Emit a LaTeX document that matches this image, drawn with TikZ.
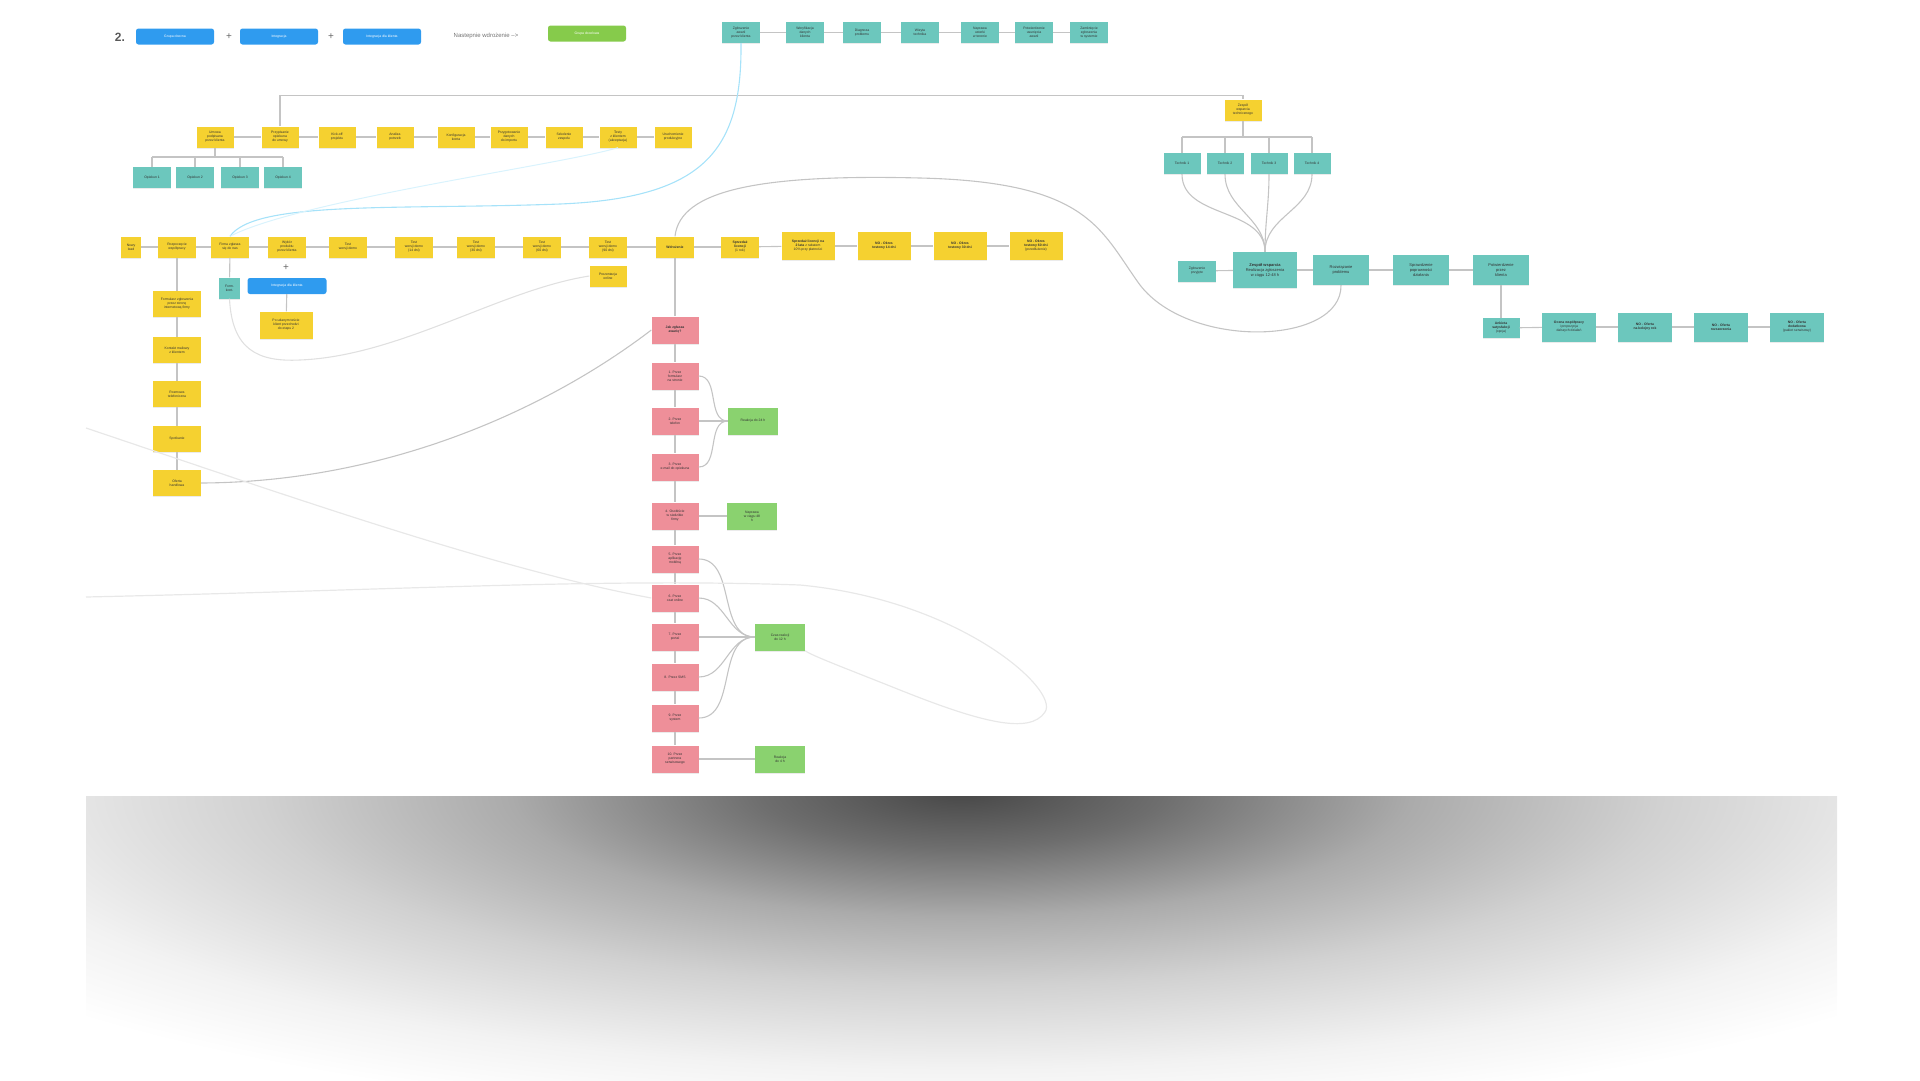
\documentclass[tikz,border=0pt]{standalone}
\usepackage{fontspec}
\setmainfont{Liberation Sans}
\usetikzlibrary{positioning, shadows}
\definecolor{postit}{HTML}{F5D130}
\definecolor{tealnote}{HTML}{6CC7BD}
\definecolor{pinknote}{HTML}{EE8F99}
\definecolor{greennote}{HTML}{8AD26F}
\definecolor{btnblue}{HTML}{2F9BEF}
\definecolor{btngreen}{HTML}{86CB4B}
\definecolor{linegray}{HTML}{C4C4C4}
\newcommand\notefont{\fontsize{3.4}{4}\selectfont}
\pgfdeclareradialshading{boardshadow}{\pgfpoint{0bp}{0bp}}{color(0bp)=(black!72);
  color(4bp)=(black!57); color(9bp)=(black!33); color(14bp)=(black!18);
  color(20bp)=(black!5); color(24bp)=(white); color(50bp)=(white)}
\tikzset{
  sticky/.style={
    rectangle,
    minimum width=37, minimum height=21,
    inner sep=0.8pt,
    align=center,
    font=\notefont,
    text=black!80,
    drop shadow={shadow xshift=0pt, shadow yshift=-1.4pt, opacity=.16}
  },
  button/.style={
    rectangle, rounded corners=2.5pt,
    minimum width=78, minimum height=16,
    inner sep=1pt, text=white,
    font=\fontsize{3.4}{4}\selectfont
  }
}

\begin{document}
\begin{tikzpicture}[
    x=1pt, y=1pt,
    yel/.style={sticky, fill=postit},
    teal/.style={sticky, fill=tealnote},
    pink/.style={sticky, fill=pinknote, minimum width=47, minimum height=27},
    green/.style={sticky, fill=greennote, minimum width=50, minimum height=27},
    conn/.style={draw=linegray, line width=1.1pt},
    faint/.style={draw=black!9, line width=1.2pt},
    cyanline/.style={draw=cyan!35, line width=1.1pt}
]
\useasboundingbox (0,0) rectangle (1920,-1080);

% shadow below the board
\begin{scope}
  \clip (86,-796) rectangle (1837,-1080);
  \shade[shading=boardshadow] (961,-792) ellipse [x radius=1250, y radius=345];
\end{scope}

% header
\node[font=\bfseries\fontsize{12}{12}\selectfont, text=black!65] (num) at (120,-37) {2.};
\node[button, fill=btnblue] (btnA) at (175,-36.5) {Grupa obecna};
\node[text=black!60] (plusA) at (229,-37) {+};
\node[button, fill=btnblue] (btnB) at (279,-36.5) {Integracja};
\node[text=black!60] (plusB) at (331,-37) {+};
\node[button, fill=btnblue] (btnC) at (382,-36.5) {Integracja dla klienta};
\node[font=\fontsize{6}{6}\selectfont, text=black!55] (nast) at (486,-36) {Nastepnie wdrożenie -->};
\node[button, fill=btngreen] (btnD) at (587,-33.5) {Grupa docelowa};

% top teal row
\node[teal, minimum width=38] (t1) at (741,-32.5) {Zgłoszenie\\awarii\\przez klienta};
\node[teal, minimum width=38] (t2) at (805,-32.5) {Weryfikacja\\danych\\klienta};
\node[teal, minimum width=38] (t3) at (862,-32.5) {Diagnoza\\problemu};
\node[teal, minimum width=38] (t4) at (920,-32.5) {Wizyta\\technika};
\node[teal, minimum width=38] (t5) at (980,-32.5) {Naprawa\\usterki\\w terenie};
\node[teal, minimum width=38] (t6) at (1034,-32.5) {Potwierdzenie\\usunięcia\\awarii};
\node[teal, minimum width=38] (t7) at (1089,-32.5) {Zamknięcie\\zgłoszenia\\w systemie};
\foreach \a/\b in {t1/t2,t2/t3,t3/t4,t4/t5,t5/t6,t6/t7}
  \draw[conn] (\a) -- (\b);

% yellow row
\node[yel] (y1) at (215,-137) {Umowa\\podpisana\\przez klienta};
\node[yel] (y2) at (280,-137) {Przypisanie\\opiekuna\\do umowy};
\node[yel] (y3) at (337,-137) {Kick-off\\projektu};
\node[yel] (y4) at (395,-137) {Analiza\\potrzeb};
\node[yel] (y5) at (456,-137) {Konfiguracja\\konta};
\node[yel] (y6) at (509,-137) {Przygotowanie\\danych\\do importu};
\node[yel] (y7) at (564,-137) {Szkolenie\\zespołu};
\node[yel] (y8) at (618,-137) {Testy\\z klientem\\(akceptacja)};
\node[yel] (y9) at (673,-137) {Uruchomienie\\produkcyjne};
\foreach \a/\b in {y1/y2,y2/y3,y3/y4,y4/y5,y5/y6,y6/y7,y7/y8,y8/y9}
  \draw[conn] (\a) -- (\b);

\node[teal, minimum width=38] (a1) at (152,-177.5) {Opiekun 1};
\node[teal, minimum width=38] (a2) at (195,-177.5) {Opiekun 2};
\node[teal, minimum width=38] (a3) at (240,-177.5) {Opiekun 3};
\node[teal, minimum width=38] (a4) at (283,-177.5) {Opiekun 4};
\coordinate (bar) at (0,-157);
\draw[conn] (y1.south) -- (y1.south |- bar);
\draw[conn] (a1.north |- bar) -- (a4.north |- bar);
\foreach \n in {a1,a2,a3,a4}
  \draw[conn] (\n.north |- bar) -- (\n.north);

% right branch
\node[yel] (ry) at (1243,-110) {Zespół\\wsparcia\\technicznego};
\coordinate (top) at (0,-95.5);
\draw[conn] (y2.north) -- (y2.north |- top) -- (ry.north |- top) -- (ry.north);

% main row
\node[yel, minimum width=20] (r1) at (131,-247) {Nowy\\lead};
\node[yel, minimum width=38] (r2) at (177,-247) {Rozpoczęcie\\współpracy};
\node[yel, minimum width=38] (r3) at (230,-247) {Firma zgłasza\\się do nas};
\node[yel, minimum width=38] (r4) at (287,-247) {Wybór\\produktu\\przez klienta};
\node[yel, minimum width=38] (r5) at (348,-247) {Test\\wersji demo};
\node[yel, minimum width=38] (r6) at (414,-247) {Test\\wersji demo\\(14 dni)};
\node[yel, minimum width=38] (r7) at (476,-247) {Test\\wersji demo\\(30 dni)};
\node[yel, minimum width=38] (r8) at (542,-247) {Test\\wersji demo\\(60 dni)};
\node[yel, minimum width=38] (r9) at (608,-247) {Test\\wersji demo\\(90 dni)};
\node[yel, minimum width=38] (r10) at (675,-247) {\textbf{Wdrożenie}};
\node[yel, minimum width=38] (r11) at (740,-247) {\textbf{Sprzedaż}\\\textbf{licencji}\\(1 rok)};
\node[yel, minimum width=53, minimum height=28] (r12) at (808,-246) {\textbf{Sprzedaż licencji na}\\\textbf{2 lata} z rabatem\\10\% przy płatności};
\node[yel, minimum width=53, minimum height=28] (r13) at (884,-246) {\textbf{NO - Okres}\\\textbf{testowy 14 dni}};
\node[yel, minimum width=53, minimum height=28] (r14) at (960,-246) {\textbf{NO - Okres}\\\textbf{testowy 30 dni}};
\node[yel, minimum width=53, minimum height=28] (r15) at (1036,-246) {\textbf{NO - Okres}\\\textbf{testowy 60 dni}\\(przedłużenie)};
\foreach \a/\b in {r1/r2,r2/r3,r3/r4,r4/r5,r5/r6,r6/r7,r7/r8,r8/r9,r9/r10,r10/r11,r11/r12,r12/r13,r13/r14,r14/r15}
  \draw[conn] (\a) -- (\b);

% left column
\node[yel, minimum width=48, minimum height=26] (l1) at (177,-304) {Formularz zgłoszenia\\przez stronę\\internetową firmy};
\node[yel, minimum width=48, minimum height=26] (l2) at (177,-350) {Kontakt mailowy\\z klientem};
\node[yel, minimum width=48, minimum height=26] (l3) at (177,-394) {Rozmowa\\telefoniczna};
\node[yel, minimum width=48, minimum height=26] (l4) at (177,-439) {Spotkanie};
\node[yel, minimum width=48, minimum height=26] (l5) at (177,-483) {Oferta\\handlowa};
\foreach \a/\b in {r2/l1,l1/l2,l2/l3,l3/l4,l4/l5}
  \draw[conn] (\a) -- (\b);

% below the main row
\node[teal, minimum width=21] (s1) at (229.5,-288) {Form.\\kont.};
\draw[conn] (r3) -- (s1);
\node[text=black!60] (plusC) at (286,-268) {+};
\node[button, fill=btnblue, minimum width=79] (blue2) at (287,-286) {Integracja dla klienta};
\node[yel, minimum width=53, minimum height=27] (yb) at (286,-325) {Po udanym teście\\klient przechodzi\\do etapu 2};
\draw[conn] (blue2) -- (yb);
\node[yel] (y10) at (608,-276) {Prezentacja\\online};

% pink column
\node[pink] (p1) at (675,-330) {\textbf{Jak zgłasza}\\\textbf{awarię?}};
\node[pink] (p2) at (675,-376) {1. Przez\\formularz\\na stronie};
\node[pink] (p3) at (675,-421) {2. Przez\\telefon};
\node[pink] (p4) at (675,-467) {3. Przez\\e-mail do opiekuna};
\node[pink] (p5) at (675,-516) {4. Osobiście\\w siedzibie\\firmy};
\node[pink] (p6) at (675,-559) {5. Przez\\aplikację\\mobilną};
\node[pink] (p7) at (675,-598) {6. Przez\\czat online};
\node[pink] (p8) at (675,-637) {7. Przez\\portal};
\node[pink] (p9) at (675,-677) {8. Przez SMS};
\node[pink] (p10) at (675,-718) {9. Przez\\system};
\node[pink] (p11) at (675,-759) {10. Przez\\partnera\\serwisowego};
\draw[conn] (r10) -- (p1);
\foreach \a/\b in {p1/p2,p2/p3,p3/p4,p4/p5,p5/p6,p6/p7,p7/p8,p8/p9,p9/p10,p10/p11}
  \draw[conn] (\a) -- (\b);

\node[green] (g1) at (753,-421) {Reakcja do 24 h};
\node[green] (g2) at (752,-516) {Naprawa\\w ciągu 48\\h};
\node[green] (g3) at (780,-637) {Czas reakcji\\do 12 h};
\node[green] (g4) at (780,-759) {Reakcja\\do 4 h};
\foreach \n in {p2,p3,p4}
  \draw[conn] (\n.east) to[out=0, in=180] (g1.west);
\draw[conn] (p5) -- (g2);
\foreach \n in {p6,p7,p8,p9,p10}
  \draw[conn] (\n.east) to[out=0, in=180] (g3.west);
\draw[conn] (p11) -- (g4);

% right part
\node[teal] (q1) at (1182,-163.5) {Technik 1};
\node[teal] (q2) at (1225,-163.5) {Technik 2};
\node[teal] (q3) at (1269,-163.5) {Technik 3};
\node[teal] (q4) at (1312,-163.5) {Technik 4};
\coordinate (rbar) at (0,-137);
\draw[conn] (ry.south) -- (ry.south |- rbar);
\draw[conn] (q1.north |- rbar) -- (q4.north |- rbar);
\foreach \n in {q1,q2,q3,q4}
  \draw[conn] (\n.north |- rbar) -- (\n.north);

\node[teal, minimum width=38] (rs) at (1197,-271) {Zgłoszenie\\przyjęte};
\node[teal, minimum width=64, minimum height=36, font=\fontsize{4}{5}\selectfont] (rb) at (1265,-270) {\textbf{Zespół wsparcia}\\Realizacja zgłoszenia\\w ciągu 12-48 h};
\node[teal, minimum width=56, minimum height=30, font=\fontsize{4}{5}\selectfont] (rc) at (1341,-270) {Rozwiązanie\\problemu};
\node[teal, minimum width=56, minimum height=30, font=\fontsize{4}{5}\selectfont] (rd) at (1421,-270) {Sprawdzenie\\poprawności\\działania};
\node[teal, minimum width=56, minimum height=30, font=\fontsize{4}{5}\selectfont] (re) at (1501,-270) {Potwierdzenie\\przez\\klienta};
\foreach \a/\b in {rs/rb,rb/rc,rc/rd,rd/re}
  \draw[conn] (\a) -- (\b);
\foreach \n in {q1,q2,q3,q4}
  \draw[conn] (\n.south) to[out=-90, in=90] (rb.north);

\node[teal, minimum height=20] (f1) at (1501,-328) {\textbf{Ankieta}\\\textbf{satysfakcji}\\(opcja)};
\node[teal, minimum width=54, minimum height=29] (f2) at (1569,-327) {\textbf{Ocena współpracy}\\i propozycja\\dalszych działań};
\node[teal, minimum width=54, minimum height=29] (f3) at (1645,-327) {\textbf{NO - Oferta}\\\textbf{na kolejny rok}};
\node[teal, minimum width=54, minimum height=29] (f4) at (1721,-327) {\textbf{NO - Oferta}\\\textbf{rozszerzenia}};
\node[teal, minimum width=54, minimum height=29] (f5) at (1797,-327) {\textbf{NO - Oferta}\\\textbf{dodatkowa}\\(pakiet serwisowy)};
\foreach \a/\b in {re/f1,f1/f2,f2/f3,f3/f4,f4/f5}
  \draw[conn] (\a) -- (\b);

% long curves
\draw[cyanline] (t1.south) .. controls (742,-150) and (705,-198) .. (560,-204)
  .. controls (400,-210) and (255,-200) .. (r3.north);
\draw[draw=cyan!15, line width=1pt] (y8.south) .. controls (560,-165) and (300,-200) .. (r3.north);
\draw[conn] (rc.south) .. controls (1342,-345) and (1190,-350) .. (1140,-285)
  .. controls (1100,-230) and (1090,-182) .. (920,-178)
  .. controls (760,-174) and (680,-190) .. (r10.north);
\draw[conn] (l5.east) .. controls (400,-482) and (560,-400) .. (p1.west);
\draw[conn, draw=black!12] (s1.south) .. controls (232,-350) and (258,-362) .. (300,-360)
  .. controls (400,-356) and (500,-290) .. (y10.west);
\coordinate (d0) at (86,-428);
\coordinate (h0) at (86,-597);
\draw[faint] (d0) .. controls (300,-500) and (500,-570) .. (p7.west);
\draw[faint] (h0) .. controls (400,-590) and (600,-578) .. (800,-585)
  .. controls (960,-600) and (1060,-690) .. (1045,-712)
  .. controls (1030,-735) and (980,-722) .. (900,-690)
  .. controls (850,-670) and (810,-655) .. (g3.south east);
\end{tikzpicture}
\end{document}
